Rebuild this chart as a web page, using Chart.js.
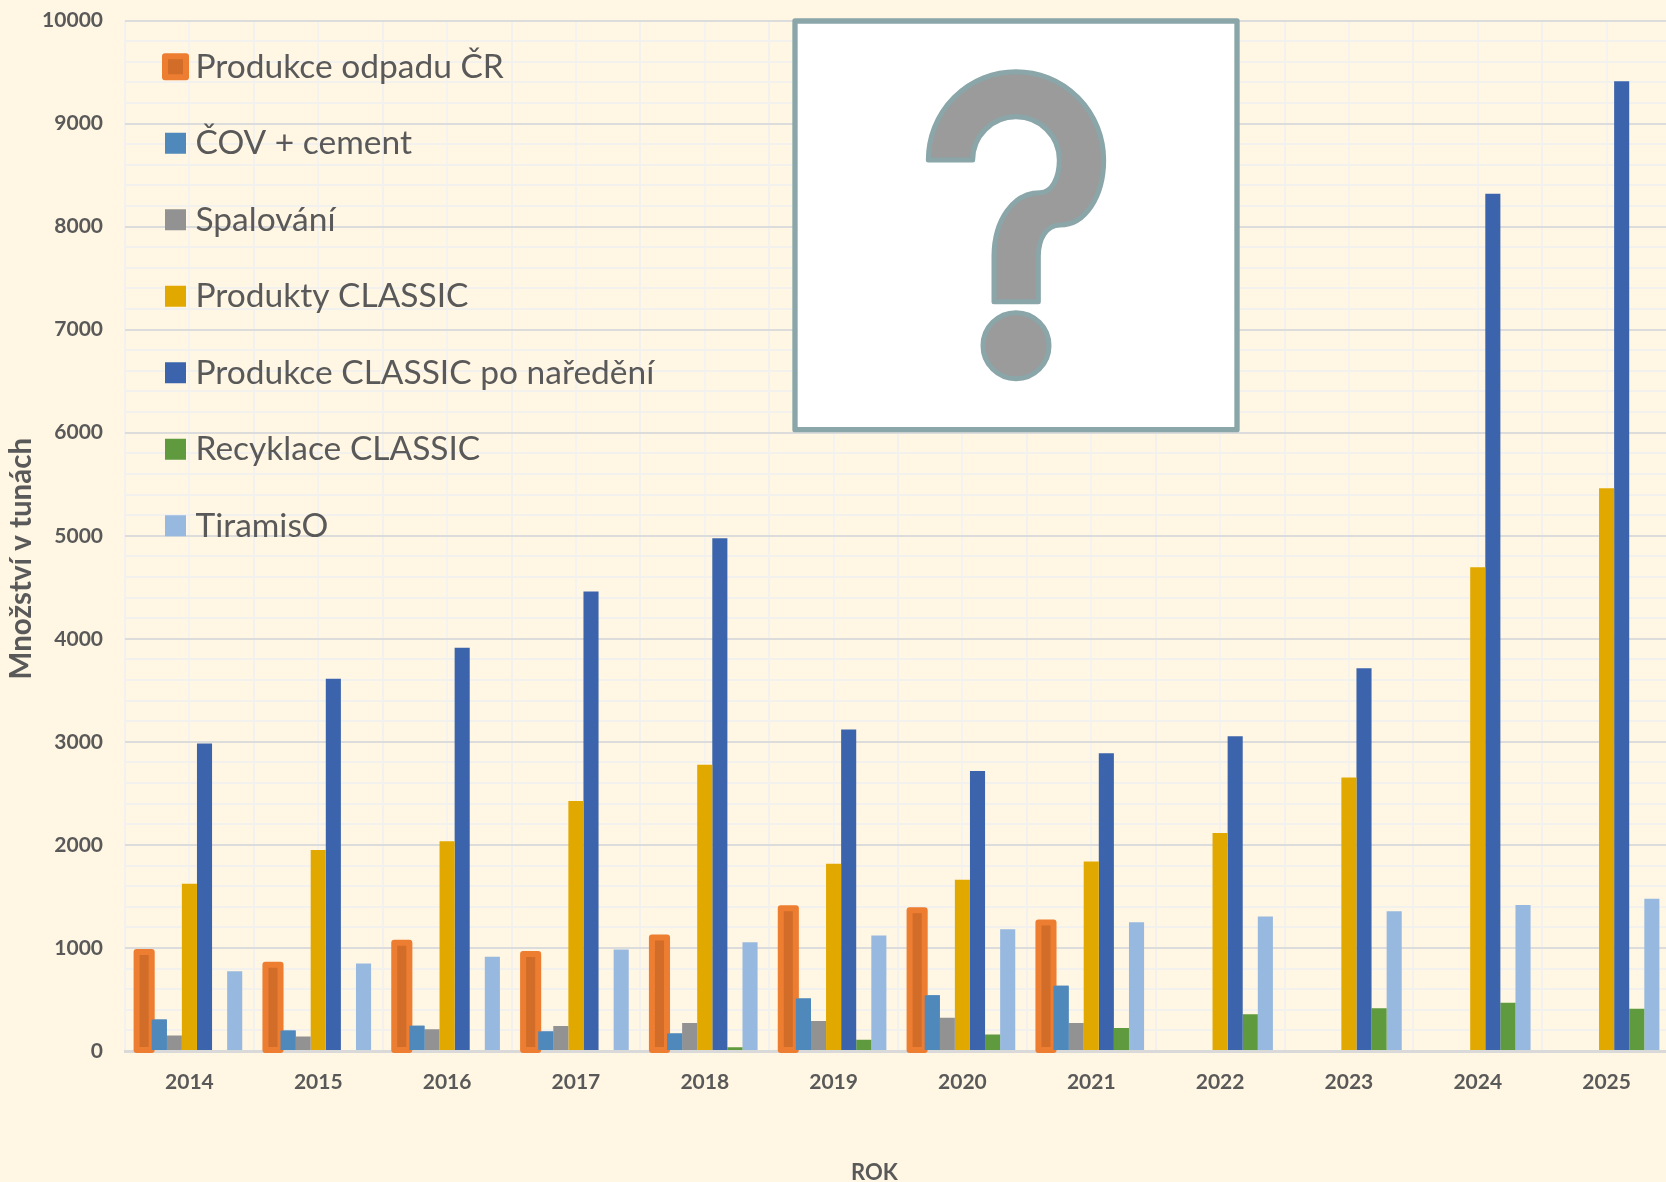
<!DOCTYPE html>
<html lang="cs"><head><meta charset="utf-8">
<script src="https://cdn.jsdelivr.net/npm/chart.js@4"></script>
<style>
html,body{margin:0;padding:0;width:1666px;height:1182px;overflow:hidden;background:#FFF6E3}
#wrap{position:relative;width:1666px;height:1182px;overflow:hidden}
canvas{position:absolute;left:0;top:0}
svg{position:absolute;left:760px;top:0}
</style></head><body>
<div id="wrap">
<canvas id="c" width="1680" height="1182" style="width:1680px;height:1182px"></canvas>
<svg width="520" height="450" viewBox="0 0 1560 1350">
<rect x="105" y="63" width="1326" height="1226" fill="#fff" stroke="#8AA6A9" stroke-width="16" stroke-linejoin="round"/>
<path d="M505 480 A263 265 0 0 1 1031 480 C1031 590 975 675 900 675 C860 675 835 715 835 770 L835 905 L702 905 L702 770 C702 660 760 578 840 578 C875 578 898 535 898 480 A130 130 0 0 0 638 480 Z" fill="#9B9B9B" stroke="#8AA6A9" stroke-width="15" stroke-linejoin="round"/>
<circle cx="768" cy="1037" r="99" fill="#9B9B9B" stroke="#8AA6A9" stroke-width="15"/>
</svg>
</div>
<script>
const years = ['2014','2015','2016','2017','2018','2019','2020','2021','2022','2023','2024','2025'];
const odpad = [961,838,1050,942,1102,1385,1365,1248,null,null,null,null];
const covCement = [305,198,245,190,170,510,540,632,null,null,null,null];
const spalovani = [150,140,212,242,272,292,322,272,null,null,null,null];
const produktyClassic = [1622,1950,2035,2425,2778,1818,1662,1838,2115,2655,4695,5460];
const produkceNaredeni = [2985,3612,3912,4460,4975,3120,2718,2890,3055,3715,8318,9410];
const recyklace = [null,null,null,null,36,108,160,222,356,416,468,410];
const tiramiso = [775,848,915,985,1055,1120,1182,1250,1305,1355,1418,1478];

const FONT = 'Lato, Carlito, sans-serif';
const TEXT = '#595959';

const halo = {
  id:'halo',
  afterLayout(chart){
    const l = chart.legend, P = l.options.labels.padding;
    l.left = 172.25 - P; l.top = 50 - P;
    const sx = chart.scales.x, sy = chart.scales.y;
    if(!sx._wrapped){
      const wrap=(s,dx,dy)=>{const o=s.drawTitle;s.drawTitle=function(){const c=this.ctx;c.save();c.translate(dx,dy);o.call(this);c.restore();};s._wrapped=true;};
      wrap(sx,-23.5,2); wrap(sy,0,23);
    }
  },
  afterDatasetDraw(chart,args){
    if(args.index!==0) return;
    const c=chart.ctx;
    c.save();
    c.strokeStyle='#ED7D31';c.lineWidth=6;c.lineJoin='round';
    chart.getDatasetMeta(0).data.forEach((el,i)=>{
      if(odpad[i]==null) return;
      c.strokeRect(el.x-el.width/2,el.y,el.width,el.base-el.y);
    });
    c.restore();
    chart.getDatasetMeta(1).data.forEach((el,i)=>{ if(covCement[i]!=null) el.draw(c); });
  }
};

new Chart(document.getElementById('c'),{
  type:'bar',
  data:{labels:years,datasets:[
    {label:'Produkce odpadu ČR',data:odpad,backgroundColor:'#D26D29'},
    {label:'ČOV + cement',data:covCement,backgroundColor:'#4F88BB'},
    {label:'Spalování',data:spalovani,backgroundColor:'#929292'},
    {label:'Produkty CLASSIC',data:produktyClassic,backgroundColor:'#E1A900'},
    {label:'Produkce CLASSIC po naředění',data:produkceNaredeni,backgroundColor:'#3C64AC'},
    {label:'Recyklace CLASSIC',data:recyklace,backgroundColor:'#5F9A3E'},
    {label:'TiramisO',data:tiramiso,backgroundColor:'#97B9E0'}
  ]},
  options:{
    responsive:false,animation:false,
    layout:{padding:{left:0,right:9,top:20.5,bottom:0}},
    datasets:{bar:{categoryPercentage:0.82,barPercentage:1}},
    plugins:{
      tooltip:{enabled:false},
      legend:{
        position:'chartArea',align:'start',
        labels:{
          color:TEXT,font:{family:FONT,size:33.5},
          usePointStyle:true,pointStyle:'rect',boxWidth:6.5,boxHeight:21,padding:43,
          generateLabels(chart){
            const it=Chart.defaults.plugins.legend.labels.generateLabels(chart);
            it.forEach(i=>{i.lineWidth=0;});
            it[0].lineWidth=6;it[0].strokeStyle='#ED7D31';it[0].lineJoin='round';
            return it;
          }
        }
      }
    },
    scales:{
      x:{
        type:'category',position:'bottom',weight:1,
        afterFit(s){s.height=131;},
        grid:{color:'#F3F1EE',lineWidth:2,drawTicks:false,offset:true},
        border:{display:true,color:'#D9D9D9',width:3},
        ticks:{color:TEXT,font:{family:FONT,size:21,weight:'bold'},padding:19,maxRotation:0,autoSkip:false},
        title:{display:true,text:'ROK',color:TEXT,font:{family:FONT,size:22,weight:'bold',lineHeight:1},padding:0}
      },
      x2:{
        type:'category',position:'bottom',weight:0,
        afterFit(s){s.height=0;},
        grid:{color:'#F5F3F0',lineWidth:2,drawTicks:false,offset:false},
        border:{display:false},
        ticks:{display:false}
      },
      y:{
        min:0,max:10000,
        afterFit(s){s.width=125;s.paddingTop=0;s.paddingBottom=0;},
        grid:{color:c=>(c.tick&&c.tick.value%1000===0)?'#DCDCDC':'#F3F1EE',lineWidth:2,drawTicks:false},
        border:{display:false},
        ticks:{stepSize:200,autoSkip:false,color:TEXT,font:{family:FONT,size:21,weight:'bold'},padding:22,
          callback:v=>v%1000===0?String(v):''},
        title:{display:true,text:'Množství v tunách',color:TEXT,font:{family:FONT,size:29.5,weight:'bold',lineHeight:1},padding:{top:7,bottom:0}}
      }
    }
  },
  plugins:[halo]
});
</script>
</body></html>
